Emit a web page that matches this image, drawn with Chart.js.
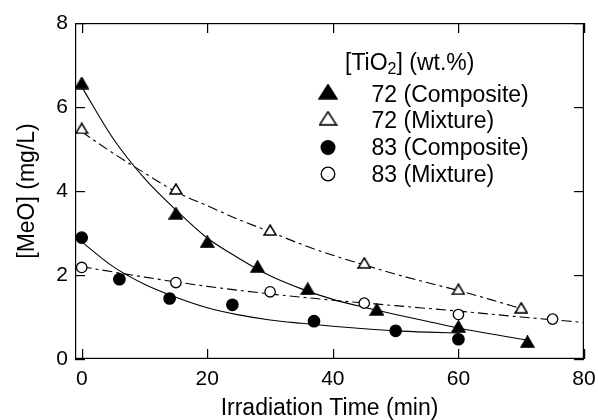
<!DOCTYPE html>
<html>
<head>
<meta charset="utf-8">
<script src="https://cdn.jsdelivr.net/npm/chart.js@4.4.1/dist/chart.umd.min.js"></script>
<style>
html, body { margin: 0; padding: 0; background: #fff; }
#chart { display: block; }
</style>
</head>
<body>
<canvas id="chart" width="598" height="420"></canvas>
<script>
// measured points
const time72c = [0, 15, 20, 28, 36, 47, 60, 71]
const meo72c = [6.57, 3.47, 2.79, 2.2, 1.67, 1.18, 0.77, 0.41]
const time72m = [0, 15, 30, 45, 60, 70]
const meo72m = [5.49, 4.05, 3.07, 2.29, 1.66, 1.22]
const time83c = [0, 6, 14, 24, 37, 50, 60]
const meo83c = [2.89, 1.9, 1.44, 1.29, 0.9, 0.67, 0.47]
const time83m = [0, 15, 30, 45, 60, 75]
const meo83m = [2.18, 1.82, 1.6, 1.33, 1.06, 0.95]

// fitted curves
const fitTime72c = [0, 5, 10, 15, 20, 25, 30, 35, 40, 45, 50, 55, 60, 65, 71]
const fit72c = [6.48, 5.25, 4.3, 3.55, 2.88, 2.4, 1.98, 1.67, 1.42, 1.23, 1.06, 0.9, 0.74, 0.6, 0.45]
const fitTime72m = [0, 5, 10, 15, 20, 25, 30, 35, 40, 45, 50, 55, 60, 65, 70]
const fit72m = [5.41, 4.9, 4.43, 3.98, 3.65, 3.32, 3.03, 2.73, 2.47, 2.24, 2.02, 1.82, 1.63, 1.42, 1.2]
const fitTime83c = [0, 5, 10, 15, 20, 25, 30, 35, 40, 45, 50, 55, 60]
const fit83c = [2.79, 2.2, 1.78, 1.47, 1.22, 1.05, 0.93, 0.85, 0.78, 0.72, 0.67, 0.64, 0.62]
const fitTime83m = [0, 10, 20, 30, 40, 50, 60, 70, 80]
const fit83m = [2.2, 1.95, 1.73, 1.55, 1.4, 1.27, 1.14, 1.0, 0.87]

const xTicks = [0, 20, 40, 60, 80]
const yTicks = [0, 2, 4, 6, 8]
const legendLabels = ['72 (Composite)', '72 (Mixture)', '83 (Composite)', '83 (Mixture)']

const family = "Arial, 'Liberation Sans', sans-serif"
const dash = [10, 4, 3, 4]

function pts(xs, ys) {
    return xs.map((x, i) => ({ x: x, y: ys[i] }))
}

// flat triangle marker, a bit wider than equilateral
function triangle(w, h, filled) {
    const c = document.createElement('canvas')
    c.width = w + 2
    c.height = h + 2
    const g = c.getContext('2d')
    g.beginPath()
    g.moveTo(c.width / 2, 1)
    g.lineTo(w + 1, h + 1)
    g.lineTo(1, h + 1)
    g.closePath()
    g.fillStyle = filled ? '#000' : '#fff'
    g.fill()
    g.lineWidth = 1.5
    g.strokeStyle = '#000'
    g.stroke()
    return c
}

const triFill = triangle(13, 11, true)
const triOpen = triangle(12, 10, false)
const triFillBig = triangle(18, 14, true)
const triOpenBig = triangle(17, 13, false)

function markers(xs, ys, style, radius, fill) {
    return {
        data: pts(xs, ys),
        showLine: false,
        pointStyle: style,
        pointRadius: radius,
        pointBackgroundColor: fill,
        pointBorderColor: '#000',
        pointBorderWidth: 1.3
    }
}

function curve(xs, ys, dashed) {
    return {
        data: pts(xs, ys),
        showLine: true,
        pointRadius: 0,
        borderColor: '#000',
        borderWidth: 1.1,
        borderDash: dashed ? dash : [],
        cubicInterpolationMode: 'monotone'
    }
}

// box and inward ticks on all four sides
const frame = {
    id: 'plotFrame',
    afterDraw(chart) {
        const ctx = chart.ctx
        const a = chart.chartArea
        const sx = chart.scales.x
        const sy = chart.scales.y
        const len = 10
        const w = 1.2
        ctx.save()
        ctx.fillStyle = '#000'
        ctx.fillRect(a.left, a.top, a.right - a.left, w)
        ctx.fillRect(a.left, a.bottom - w, a.right - a.left, w)
        ctx.fillRect(a.left, a.top, w, a.bottom - a.top)
        ctx.fillRect(a.right - w, a.top, w, a.bottom - a.top)
        xTicks.forEach(v => {
            const x = Math.round(sx.getPixelForValue(v))
            ctx.fillRect(x, a.bottom - len, w, len)
            ctx.fillRect(x, a.top, w, len)
        })
        yTicks.forEach(v => {
            const y = Math.round(sy.getPixelForValue(v))
            ctx.fillRect(a.left, y, len, w)
            ctx.fillRect(a.right - len, y, len, w)
        })
        ctx.restore()
    }
}

const legendBlock = {
    id: 'legendBlock',
    afterDraw(chart) {
        const ctx = chart.ctx
        ctx.save()
        ctx.fillStyle = '#000'
        ctx.textBaseline = 'alphabetic'
        ctx.textAlign = 'left'
        let x = 345
        const ty = 70
        ctx.font = '23px ' + family
        ctx.fillText('[TiO', x, ty)
        x += ctx.measureText('[TiO').width
        ctx.font = '16px ' + family
        ctx.fillText('2', x, ty + 3.5)
        x += ctx.measureText('2').width
        ctx.font = '23px ' + family
        ctx.fillText('] (wt.%)', x, ty)

        const rows = [101.7, 128.3, 155, 181.9]
        const mx = 328
        legendLabels.forEach((t, i) => {
            ctx.fillText(t, 371.5, rows[i])
        })
        ctx.drawImage(triFillBig, mx - triFillBig.width / 2, 91.7 - triFillBig.height / 2)
        ctx.drawImage(triOpenBig, mx - triOpenBig.width / 2, 118.3 - triOpenBig.height / 2)
        ctx.beginPath()
        ctx.arc(mx, 147.5, 7.5, 0, Math.PI * 2)
        ctx.fill()
        ctx.beginPath()
        ctx.arc(mx, 174, 6.8, 0, Math.PI * 2)
        ctx.fillStyle = '#fff'
        ctx.fill()
        ctx.lineWidth = 1.3
        ctx.strokeStyle = '#000'
        ctx.stroke()
        ctx.restore()
    }
}

new Chart(document.getElementById('chart'), {
    type: 'scatter',
    data: {
        datasets: [
            markers(time72c, meo72c, triFill, 6, '#000'),
            markers(time72m, meo72m, triOpen, 6, '#fff'),
            markers(time83c, meo83c, 'circle', 5.7, '#000'),
            markers(time83m, meo83m, 'circle', 5.2, '#fff'),
            curve(fitTime72c, fit72c, false),
            curve(fitTime72m, fit72m, true),
            curve(fitTime83c, fit83c, false),
            curve(fitTime83m, fit83m, true)
        ]
    },
    options: {
        responsive: false,
        animation: false,
        layout: { padding: { top: 23, right: 14, bottom: 0, left: 0 } },
        plugins: {
            legend: { display: false },
            tooltip: { enabled: false }
        },
        scales: {
            x: {
                type: 'linear',
                min: -1.07,
                max: 80,
                afterBuildTicks: s => { s.ticks = xTicks.map(v => ({ value: v })) },
                afterFit: s => {
                    s.height = 61
                    // keep the "80" label from shrinking the plot
                    s.paddingLeft = 0
                    s.paddingRight = 0
                },
                grid: { display: false, drawTicks: false },
                border: { display: false },
                ticks: { color: '#000', font: { family: family, size: 21 }, padding: 8, maxRotation: 0 },
                title: {
                    display: true,
                    text: 'Irradiation Time (min)',
                    color: '#000',
                    font: { family: family, size: 23, lineHeight: 1 },
                    padding: 0
                }
            },
            y: {
                type: 'linear',
                min: 0,
                max: 8,
                afterBuildTicks: s => { s.ticks = yTicks.map(v => ({ value: v })) },
                afterFit: s => { s.width = 75 },
                grid: { display: false, drawTicks: false },
                border: { display: false },
                ticks: { color: '#000', font: { family: family, size: 21 }, padding: 7 },
                title: {
                    display: true,
                    text: '[MeO] (mg/L)',
                    color: '#000',
                    font: { family: family, size: 23, lineHeight: 1 },
                    padding: { top: 16, bottom: 0 }
                }
            }
        }
    },
    plugins: [frame, legendBlock]
})
</script>
</body>
</html>
